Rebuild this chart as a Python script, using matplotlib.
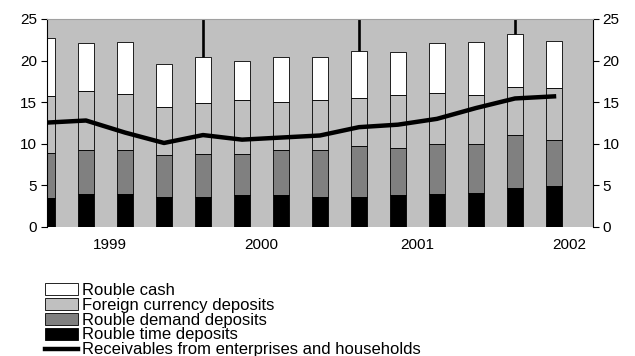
import numpy as np
import matplotlib.pyplot as plt

plt.rcParams['font.family'] = ['Liberation Sans', 'DejaVu Sans']

# quarterly values, 1999 Q1 .. 2002 Q2
rouble_time = [3.45, 3.95, 3.95, 3.55, 3.55, 3.8, 3.8, 3.55, 3.55, 3.8, 3.95, 4.1, 4.65, 4.95]
rouble_demand = [8.95, 9.2, 9.3, 8.6, 8.8, 8.8, 9.2, 9.3, 9.7, 9.45, 10.0, 10.0, 11.0, 10.5]
foreign_dep = [15.7, 16.3, 16.0, 14.4, 14.9, 15.3, 15.0, 15.3, 15.45, 15.9, 16.05, 15.9, 16.8, 16.65]
rouble_cash = [22.75, 22.1, 22.2, 19.6, 20.45, 19.9, 20.45, 20.45, 21.1, 21.0, 22.1, 22.2, 23.2, 22.35]
receivables = [12.55, 12.8, 11.35, 10.1, 11.05, 10.5, 10.75, 11.0, 12.0, 12.3, 13.0, 14.3, 15.45, 15.7]
year_labels = ['1999', '2000', '2001', '2002']
year_pos = [1.6, 5.5, 9.5, 13.4]
dividers = [4, 8, 12]

x = np.arange(len(rouble_time))
t = np.array(rouble_time)
d = np.array(rouble_demand)
f = np.array(foreign_dep)
c = np.array(rouble_cash)

fig = plt.figure(figsize=(6.35, 3.56), dpi=100)
ax = fig.add_axes([47 / 635, 1 - 227 / 356, 546 / 635, 208 / 356])
ax.set_facecolor('#c0c0c0')

for v in dividers:
    ax.axvline(v, color='black', lw=1.9, zorder=1)

w = 0.42
kw = dict(width=w, edgecolor='black', linewidth=0.6, zorder=2)
ax.bar(x, c - f, bottom=f, color='white', label='Rouble cash', **kw)
ax.bar(x, f - d, bottom=d, color='#c0c0c0', label='Foreign currency deposits', **kw)
ax.bar(x, d - t, bottom=t, color='#808080', label='Rouble demand deposits', **kw)
ax.bar(x, t, color='black', label='Rouble time deposits', **kw)
ax.plot(x, receivables, color='black', lw=3.2, zorder=3,
        label='Receivables from enterprises and households')

ax.set_xlim(0, 14)
ax.set_ylim(0, 25)
ax.set_yticks(range(0, 26, 5))
ax.set_xticks(year_pos)
ax.set_xticklabels(year_labels)
ax.tick_params(axis='x', length=0, pad=8, labelsize=11)
ax.tick_params(axis='y', length=4, width=0.8, labelsize=11, right=True,
               labelright=True, pad=3)
ax.spines['bottom'].set_visible(False)
ax.spines['top'].set_color('#a0a0a0')
ax.spines['left'].set_linewidth(0.8)
ax.spines['right'].set_linewidth(0.8)

h, l = ax.get_legend_handles_labels()
order = [1, 2, 3, 4, 0]
leg = fig.legend([h[i] for i in order], [l[i] for i in order],
                 loc='upper left', bbox_to_anchor=(45 / 635, 1 - 283 / 356),
                 frameon=False, fontsize=12, handlelength=2.0, handleheight=0.7,
                 labelspacing=-0.01, handletextpad=0.25, borderpad=0, borderaxespad=0)

fig.savefig('out.png', dpi=100)
